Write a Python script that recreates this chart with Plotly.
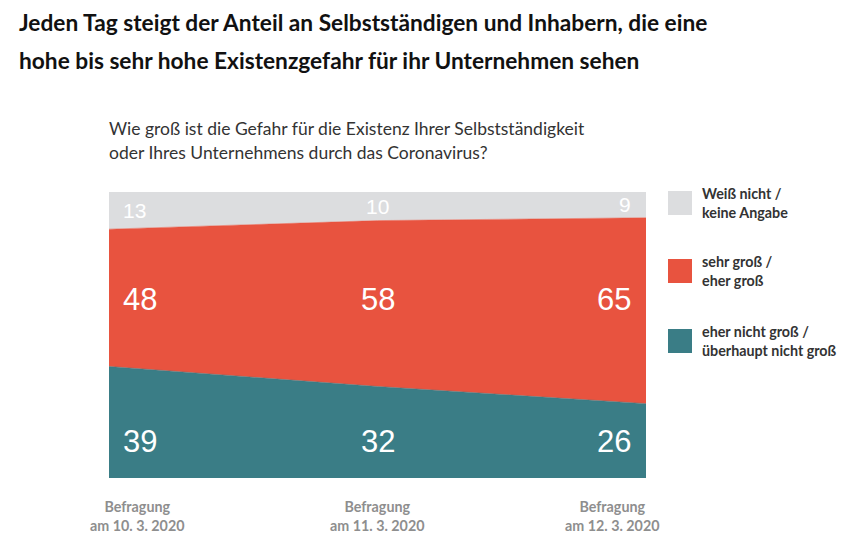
import plotly.graph_objects as go

# ---- data ----
surveys = ["Befragung<br>am 10. 3. 2020", "Befragung<br>am 11. 3. 2020", "Befragung<br>am 12. 3. 2020"]
series_names = ["eher nicht groß /<br>überhaupt nicht groß", "sehr groß /<br>eher groß", "Weiß nicht /<br>keine Angabe"]
not_big = [39, 32, 26]
big = [48, 58, 65]
unknown = [13, 10, 9]

colors = ["#3a7d86", "#e8533f", "#dcdddf"]
series_values = [not_big, big, unknown]

x = list(range(len(surveys)))

fig = go.Figure()
for name, vals, col in zip(series_names, series_values, colors):
    fig.add_trace(go.Scatter(
        x=x, y=vals, name=name, mode="lines", stackgroup="one",
        line=dict(width=0.5, color=col), fillcolor=col, showlegend=False,
        hoverinfo="skip",
    ))

num_font = "Liberation Sans, Arial, sans-serif"
anchors = ["left", "center", "right"]
shifts = [12, 0, -13]

annotations = []
for i in x:
    a, s = anchors[i], shifts[i]
    annotations.append(dict(x=i, y=12.9, xref="x", yref="y", text=str(not_big[i]), showarrow=False,
                            xanchor=a, xshift=s, yanchor="middle",
                            font=dict(family=num_font, size=31, color="white")))
    annotations.append(dict(x=i, y=62.3, xref="x", yref="y", text=str(big[i]), showarrow=False,
                            xanchor=a, xshift=s, yanchor="middle",
                            font=dict(family=num_font, size=31, color="white")))
    annotations.append(dict(x=i, y=100 - unknown[i] / 2, xref="x", yref="y", text=str(unknown[i]), showarrow=False,
                            xanchor=a, xshift=s, yanchor="middle",
                            font=dict(family=num_font, size=21, color="white")))

tick_shifts = [28, 0, -34]
for i in x:
    annotations.append(dict(x=i, y=0, xref="x", yref="y", text=surveys[i], showarrow=False,
                            xanchor="center", yanchor="top", xshift=tick_shifts[i], yshift=-18,
                            font=dict(family="Lato", size=14.3, color="#8e8e8e", weight="bold"),
                            align="center"))

# page offset (browser body margin)
OFF = 8
W, H = 850 - OFF, 555 - OFF
L, R, T, B = 109 - OFF, 850 - 646, 192 - OFF, 555 - 478
pw, ph = W - L - R, H - T - B


def px(xp):
    return (xp - OFF - L) / pw


def py(yp):
    return (H - (yp - OFF) - B) / ph


title_font = dict(family="Lato", size=22.7, color="#111")
sub_font = dict(family="Lato", size=17.5, color="#333")
annotations += [
    dict(x=px(17), y=py(22), xref="paper", yref="paper", text="<b>Jeden Tag steigt der Anteil an Selbstständigen und Inhabern, die eine</b>",
         showarrow=False, xanchor="left", yanchor="middle", font=title_font),
    dict(x=px(17), y=py(60), xref="paper", yref="paper", text="<b>hohe bis sehr hohe Existenzgefahr für ihr Unternehmen sehen</b>",
         showarrow=False, xanchor="left", yanchor="middle", font=title_font),
    dict(x=px(107), y=py(128), xref="paper", yref="paper", text="Wie groß ist die Gefahr für die Existenz Ihrer Selbstständigkeit",
         showarrow=False, xanchor="left", yanchor="middle", font=sub_font),
    dict(x=px(107), y=py(153), xref="paper", yref="paper", text="oder Ihres Unternehmens durch das Coronavirus?",
         showarrow=False, xanchor="left", yanchor="middle", font=sub_font),
]

shapes = []
legend_tops = [329, 259, 191]
for name, col, top in zip(series_names, colors, legend_tops):
    shapes.append(dict(type="rect", xref="paper", yref="paper",
                       x0=px(668), x1=px(692), y0=py(top + 24), y1=py(top),
                       fillcolor=col, line=dict(width=0)))
    annotations.append(dict(x=px(700), y=py(top + 12), xref="paper", yref="paper",
                            text="<b>" + name + "</b>", showarrow=False, xanchor="left", yanchor="middle",
                            align="left", font=dict(family="Lato", size=14.3, color="#333")))

fig.update_layout(
    width=W, height=H,
    margin=dict(l=L, r=R, t=T, b=B),
    paper_bgcolor="white", plot_bgcolor="white",
    xaxis=dict(range=[0, 2], showgrid=False, zeroline=False, showticklabels=False, fixedrange=True),
    yaxis=dict(range=[0, 100], showgrid=False, zeroline=False, showticklabels=False, fixedrange=True),
    annotations=annotations, shapes=shapes,
    font=dict(family="Lato"),
)

fig.write_html("out.html")
